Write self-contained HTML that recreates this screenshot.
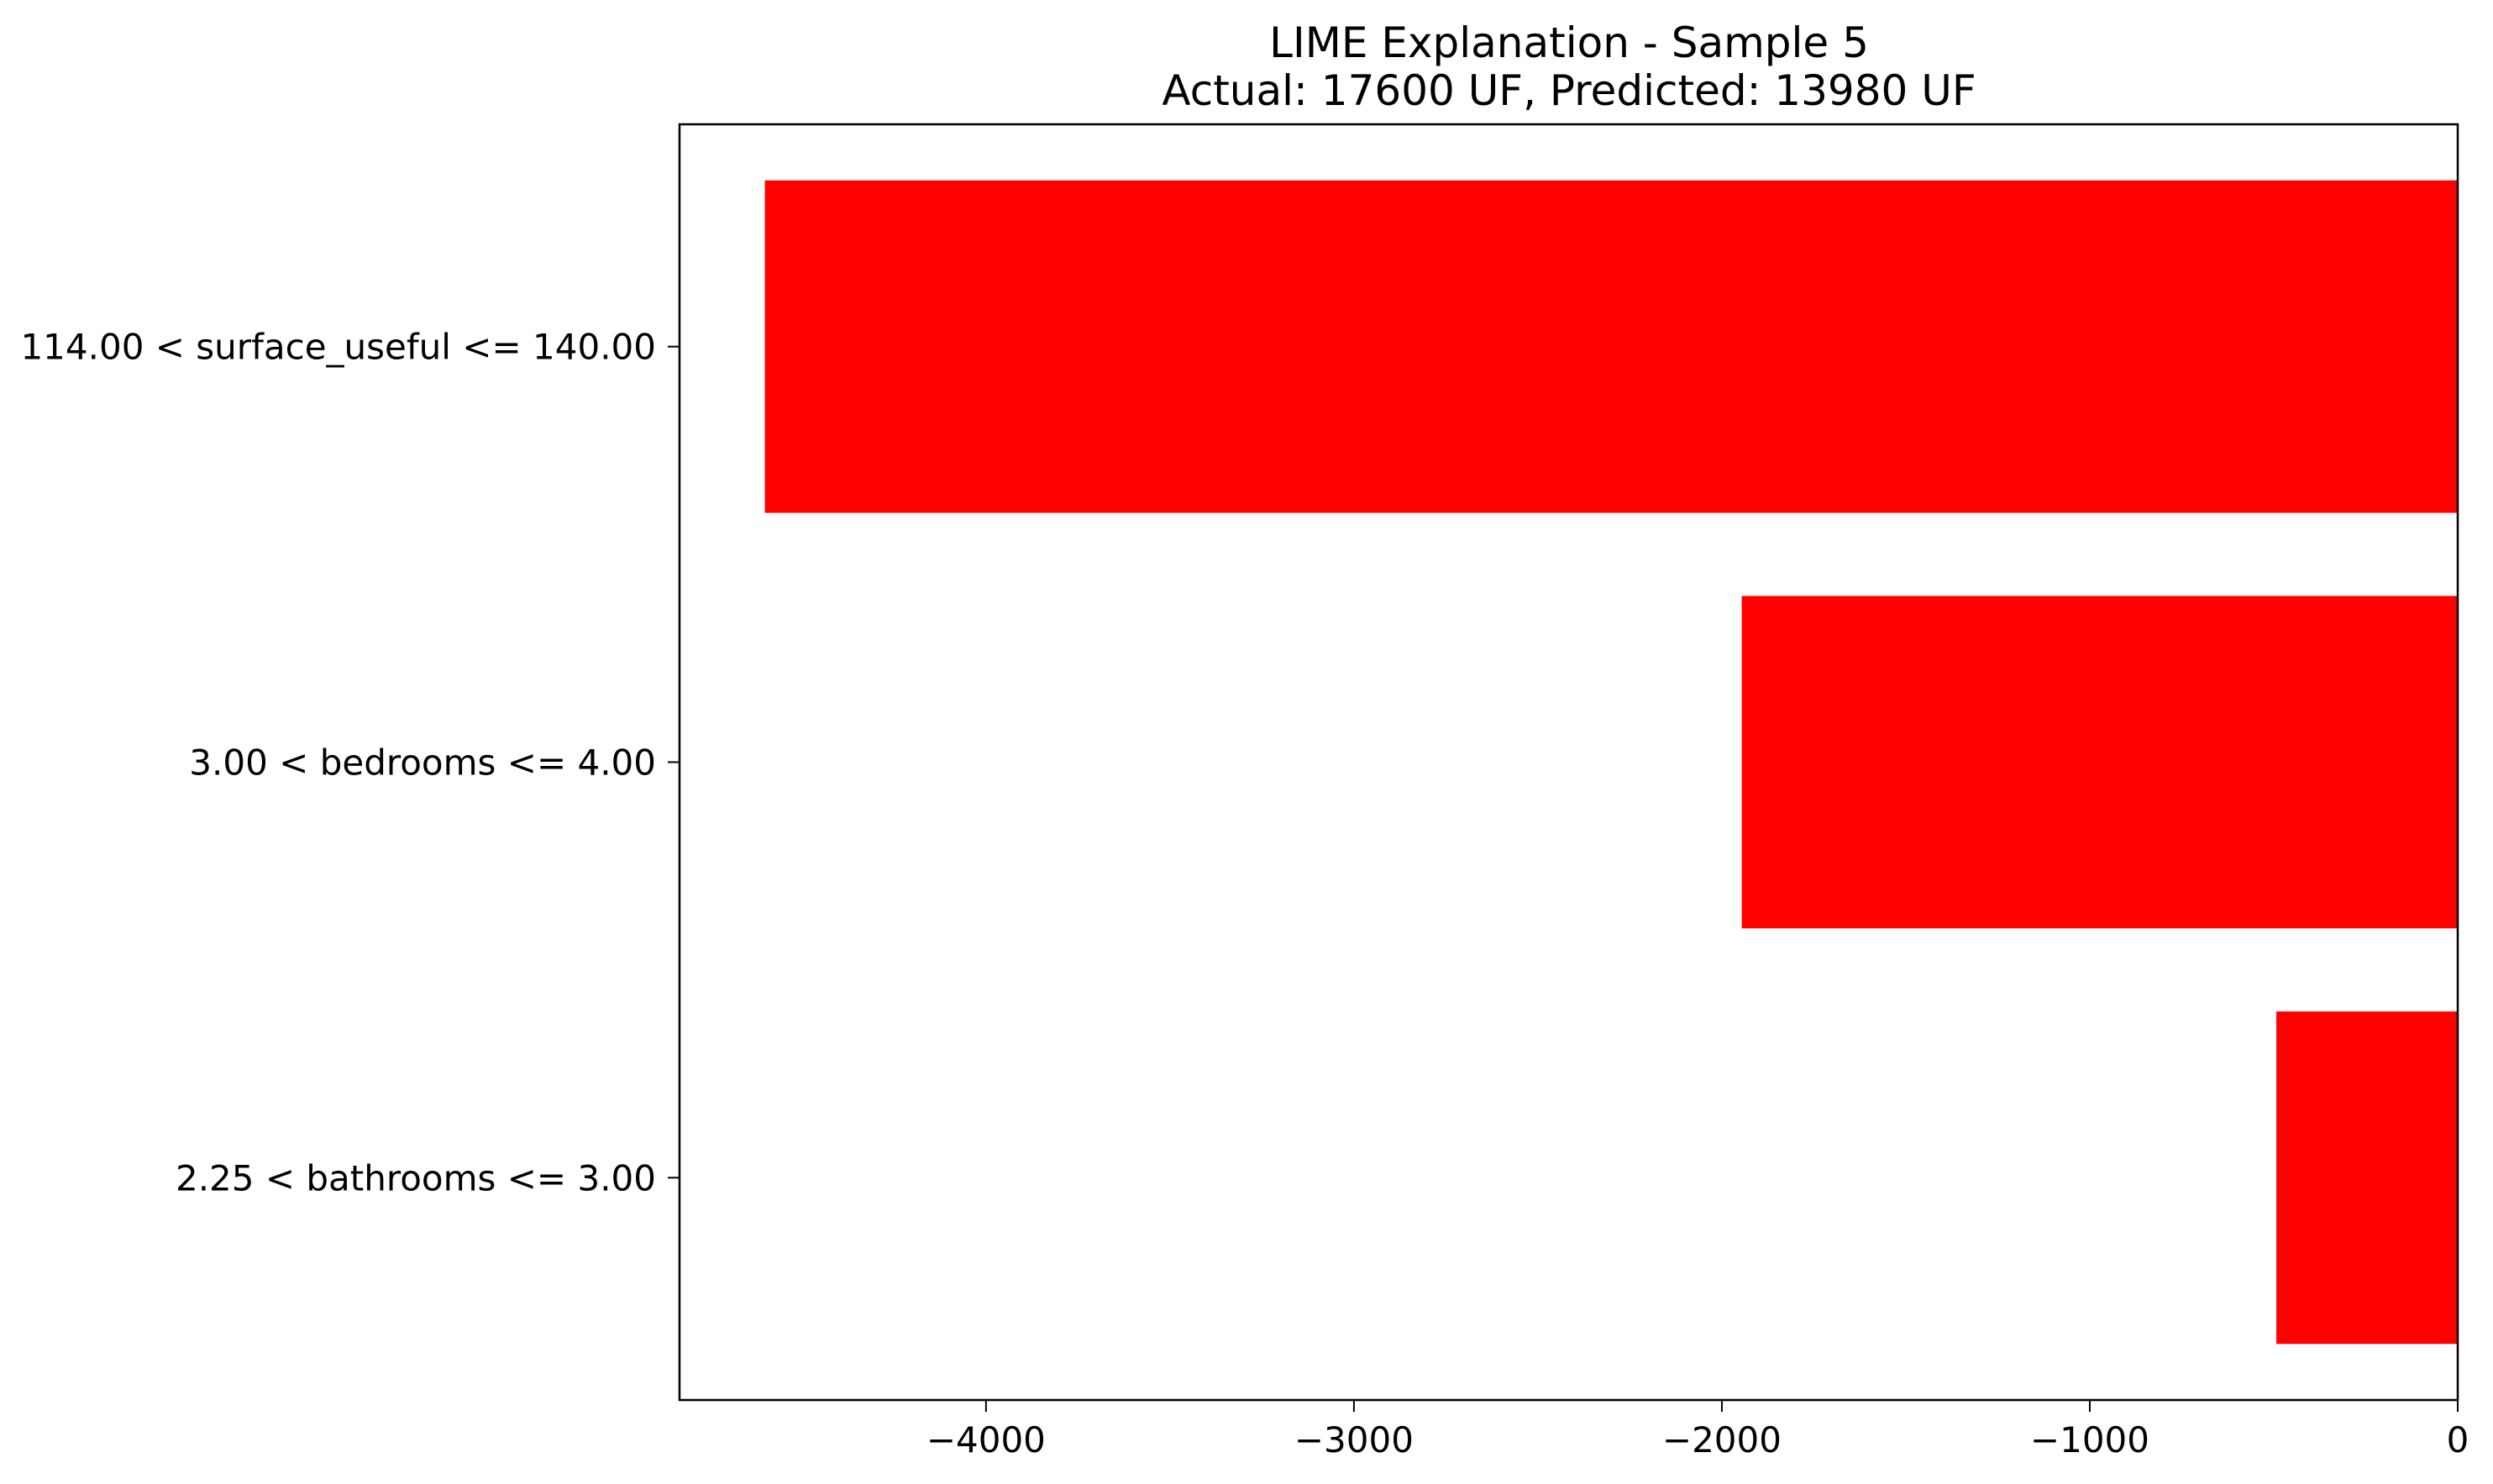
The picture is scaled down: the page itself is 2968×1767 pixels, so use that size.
<!DOCTYPE html>
<html><head><meta charset="utf-8"><style>
html,body{margin:0;padding:0;background:#fff;}
svg{display:block;font-family:"DejaVu Sans","Liberation Sans",sans-serif;}
</style></head><body>
<svg id="chart" width="2968" height="1767" viewBox="0 0 2968 1767">
<text x="1868" y="68" font-size="50" text-anchor="middle">LIME Explanation - Sample 5</text>
<text x="1868" y="125" font-size="50" text-anchor="middle">Actual: 17600 UF, Predicted: 13980 UF</text>
<g id="bars"></g><g id="xticks"></g><g id="yticks"></g>
<rect x="809" y="148" width="2117" height="1519" fill="none" stroke="#000" stroke-width="2.5"/>
</svg>
<script>
const categories = ["114.00 < surface_useful <= 140.00","3.00 < bedrooms <= 4.00","2.25 < bathrooms <= 3.00"];
const values = [-4601, -1946, -493];
const xTickValues = [-4000,-3000,-2000,-1000,0];
const xTickLabels = ["\u22124000","\u22123000","\u22122000","\u22121000","0"];
const L=809,R=2926,T=148,B=1667,xmin=-4833,xmax=0,ymin=-0.535,ymax=2.535;
const NS="http://www.w3.org/2000/svg";
function sx(v){return L+(v-xmin)/(xmax-xmin)*(R-L);}
function sy(i){return T+(i-ymin)/(ymax-ymin)*(B-T);}
const gb=document.getElementById('bars'),gx=document.getElementById('xticks'),gy=document.getElementById('yticks');
values.forEach((v,i)=>{
  const r=document.createElementNS(NS,'rect');
  
  
  const x0=sx(Math.min(v,0)),x1=sx(Math.max(v,0));
  r.setAttribute('x',x0);r.setAttribute('width',x1-x0);
  r.setAttribute('y',sy(i-0.4));r.setAttribute('height',sy(i+0.4)-sy(i-0.4));
  r.setAttribute('fill','#ff0000');gb.appendChild(r);
});
xTickValues.forEach((v,i)=>{
  const l=document.createElementNS(NS,'line');
  
  
  l.setAttribute('x1',sx(v));l.setAttribute('x2',sx(v));l.setAttribute('y1',B);l.setAttribute('y2',B+14);
  l.setAttribute('stroke','#000');l.setAttribute('stroke-width','2');gx.appendChild(l);
  const t=document.createElementNS(NS,'text');
  
  
  t.setAttribute('x',sx(v));t.setAttribute('y',B+62);t.setAttribute('font-size','42');t.setAttribute('text-anchor','middle');
  t.textContent=xTickLabels[i];gx.appendChild(t);
});
categories.forEach((c,i)=>{
  const l=document.createElementNS(NS,'line');
  
  
  l.setAttribute('x1',L-14);l.setAttribute('x2',L);l.setAttribute('y1',sy(i));l.setAttribute('y2',sy(i));
  l.setAttribute('stroke','#000');l.setAttribute('stroke-width','2');gy.appendChild(l);
  const t=document.createElementNS(NS,'text');
  
  
  t.setAttribute('x',L-28);t.setAttribute('y',sy(i)+15);t.setAttribute('font-size','42');t.setAttribute('text-anchor','end');
  t.textContent=c;gy.appendChild(t);
});
</script>
</body></html>
